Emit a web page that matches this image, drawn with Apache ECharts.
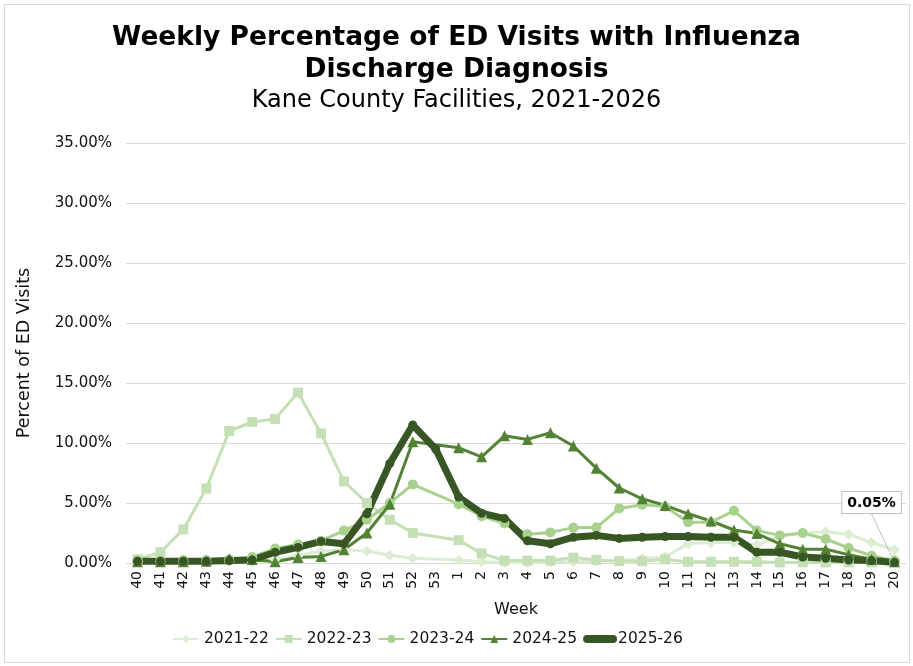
<!DOCTYPE html>
<html>
<head>
<meta charset="utf-8">
<script src="https://cdn.jsdelivr.net/npm/echarts@6/dist/echarts.min.js"></script>
<style>
html, body { margin: 0; padding: 0; background: #fff; }
#wrap { position: relative; width: 913px; height: 666px; }
#frame { position: absolute; left: 4px; top: 4px; width: 904px; height: 657px; border: 1px solid #d9d9d9; pointer-events: none; }
#chart { position: absolute; left: 0; top: 0; width: 913px; height: 666px; }
</style>
</head>
<body>
<div id="wrap">
  <div id="chart"></div>
  <div id="frame"></div>
</div>
<script>
// week labels: flu season runs week 40 through week 20
var weeks = ['40','41','42','43','44','45','46','47','48','49','50','51','52','53',
  '1','2','3','4','5','6','7','8','9','10','11','12','13','14','15','16','17','18','19','20'];

var yTicks = [0, 5, 10, 15, 20, 25, 30, 35];

// percent of ED visits (null = no week 53 that season)
var s2122 = [0.1,0.1,0.1,0.1,0.1,0.05,0.3,0.6,1.0,1.1,1.0,0.65,0.4,null,
  0.25,0.1,0.05,0.05,0.1,0.1,0.15,0.2,0.35,0.5,1.6,1.7,1.7,1.5,2.2,2.5,2.6,2.4,1.7,1.1];
var s2223 = [0.3,0.9,2.8,6.2,11.0,11.75,12.0,14.2,10.8,6.8,5.0,3.6,2.5,null,
  1.9,0.8,0.2,0.2,0.2,0.45,0.25,0.15,0.15,0.3,0.1,0.1,0.1,0.1,0.05,0.05,0.05,0.05,0.05,0.05];
var s2324 = [0.2,0.2,0.25,0.25,0.3,0.5,1.2,1.55,1.85,2.7,3.6,5.0,6.55,null,
  4.9,3.9,3.3,2.4,2.55,2.95,2.95,4.55,4.85,4.7,3.4,3.4,4.35,2.7,2.3,2.5,2.0,1.25,0.6,0.2];
var s2425 = [0.1,0.1,0.1,0.15,0.35,0.3,0.1,0.45,0.55,1.1,2.5,4.9,10.1,null,
  9.6,8.85,10.6,10.3,10.85,9.75,7.9,6.25,5.35,4.8,4.1,3.5,2.75,2.45,1.6,1.15,1.15,0.7,0.3,0.1];
var s2526 = [0.15,0.15,0.15,0.15,0.2,0.25,0.9,1.3,1.8,1.6,4.1,8.3,11.5,9.5,
  5.5,4.15,3.7,1.85,1.6,2.15,2.3,2.05,2.15,2.2,2.2,2.15,2.15,0.9,0.9,0.5,0.4,0.25,0.2,0.05];

var font = 'DejaVu Sans, Verdana, sans-serif';

// last point of the current season gets the callout label
var cur = s2526.map(function (v, i) {
  if (i === s2526.length - 1) {
    return { value: v, label: { show: true }, labelLine: { show: true } };
  }
  return v;
});

function season(name, data, color, symbol, size, width) {
  return {
    name: name,
    type: 'line',
    data: data,
    connectNulls: true,
    symbol: symbol,
    symbolSize: size,
    showAllSymbol: true,
    lineStyle: { color: color, width: width },
    itemStyle: { color: color },
    emphasis: { disabled: true }
  };
}

var myChart = echarts.init(document.getElementById('chart'));

var last = season('2025-26', cur, '#375623', 'circle', 9, 7);
last.label = {
  show: false,
  position: 'top',
  formatter: function (p) { return p.value.toFixed(2) + '%'; },
  fontFamily: font,
  fontWeight: 'bold',
  fontSize: 14,
  color: '#000',
  backgroundColor: '#fff',
  borderColor: '#bfbfbf',
  borderWidth: 1,
  padding: [4, 5, 3, 5]
};
last.labelLine = { show: true, lineStyle: { color: '#bfbfbf', width: 1 } };
last.labelLayout = { dx: -23, dy: -40 };

var option = {
  animation: false,
  title: [
    {
      text: 'Weekly Percentage of ED Visits with Influenza\nDischarge Diagnosis',
      left: 'center',
      top: 17,
      textStyle: { fontFamily: font, fontWeight: 'bold', fontSize: 26.5, lineHeight: 32, color: '#000' }
    },
    {
      text: 'Kane County Facilities, 2021-2026',
      left: 'center',
      top: 84,
      textStyle: { fontFamily: font, fontWeight: 'normal', fontSize: 24, color: '#000' }
    }
  ],
  legend: {
    bottom: 14,
    left: 167,
    itemWidth: 26,
    itemHeight: 10,
    itemGap: 6,
    textStyle: { fontFamily: font, fontSize: 15.5, color: '#111' },
    data: [
      { name: '2021-22' },
      { name: '2022-23' },
      { name: '2023-24' },
      { name: '2024-25' },
      { name: '2025-26', lineStyle: { width: 8, cap: 'round' } }
    ]
  },
  grid: { left: 126, right: 7, top: 143, bottom: 103 },
  xAxis: {
    type: 'category',
    data: weeks,
    boundaryGap: true,
    name: 'Week',
    nameLocation: 'middle',
    nameGap: 39,
    nameTextStyle: { fontFamily: font, fontSize: 16, color: '#111' },
    axisLine: { lineStyle: { color: '#d9d9d9' } },
    axisTick: { show: false },
    axisLabel: { rotate: 90, interval: 0, fontFamily: font, fontSize: 14, color: '#111', margin: 8 }
  },
  yAxis: {
    type: 'value',
    min: yTicks[0],
    max: yTicks[yTicks.length - 1],
    interval: 5,
    name: 'Percent of ED Visits',
    nameLocation: 'middle',
    nameGap: 93,
    nameTextStyle: { fontFamily: font, fontSize: 17.5, color: '#111' },
    axisLine: { show: false },
    axisTick: { show: false },
    splitLine: { lineStyle: { color: '#d9d9d9' } },
    axisLabel: {
      fontFamily: font, fontSize: 15, color: '#111', margin: 14,
      formatter: function (v) { return v.toFixed(2) + '%'; }
    }
  },
  series: [
    season('2021-22', s2122, '#dcedd3', 'diamond', 11, 3),
    season('2022-23', s2223, '#c5e0b4', 'rect', 10, 3),
    season('2023-24', s2324, '#a9d18e', 'circle', 10, 3),
    season('2024-25', s2425, '#548235', 'triangle', 11, 3),
    last
  ]
};
myChart.setOption(option);
</script>
</body>
</html>
